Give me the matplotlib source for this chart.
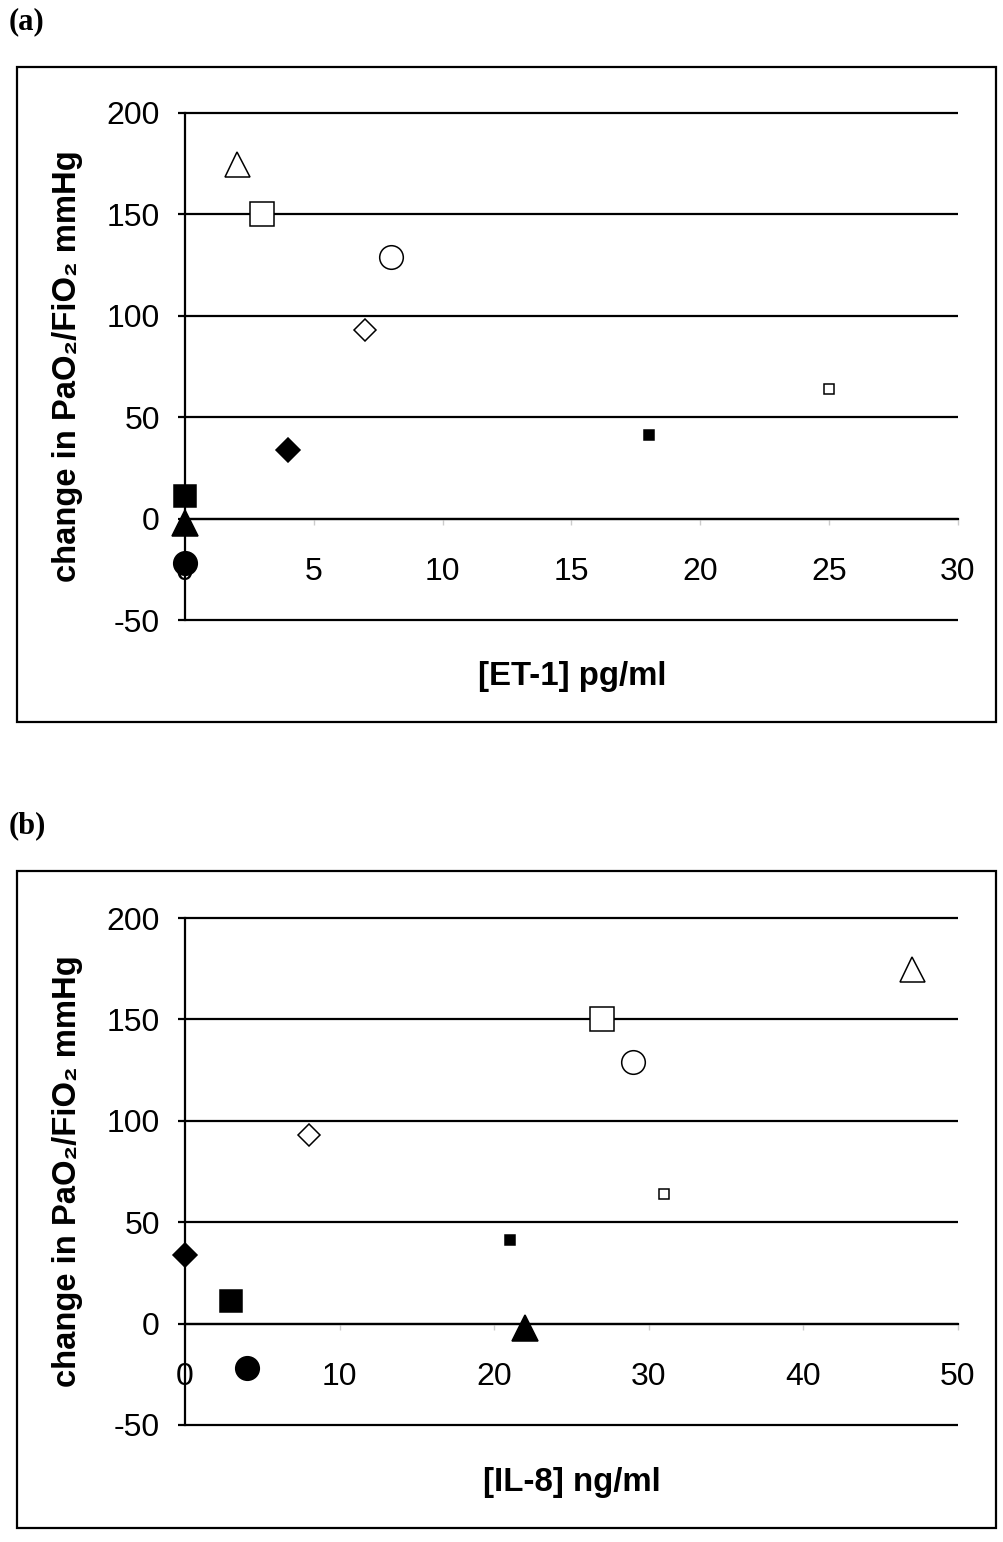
import matplotlib
matplotlib.use("Agg")
import matplotlib.pyplot as plt
from matplotlib.patches import Rectangle

plt.rcParams['font.family'] = ['Liberation Sans', 'DejaVu Sans']
plt.rcParams['axes.unicode_minus'] = False

# change in PaO2/FiO2 (mmHg), one value per patient
dpf_change = [175, 150, 129, 93, 34, 11, -2, -22, 41, 64]
# plasma concentrations for the same patients
et1_pgml = [2, 3, 8, 7, 4, 0, 0, 0, 18, 25]
il8_ngml = [47, 27, 29, 8, 0, 3, 22, 4, 21, 31]

# marker style per patient: (marker, size, facecolor)
styles = [
    ('^', 18, 'white'),
    ('s', 17, 'white'),
    ('o', 17, 'white'),
    ('D', 11.5, 'white'),
    ('D', 12.5, 'black'),
    ('s', 16.5, 'black'),
    ('^', 18.5, 'black'),
    ('o', 17, 'black'),
    ('s', 7.5, 'black'),
    ('s', 7, 'white'),
]

y_ticks = [-50, 0, 50, 100, 150, 200]

fig = plt.figure(figsize=(10.04, 15.42), dpi=100)


def px_x(v):
    return v / 1004.0


def px_y(v):
    return 1 - v / 1542.0


def draw_panel(top_px, xvals, xmax, xstep, xlabel, tag, box):
    bottom_px = top_px + 507
    ax = fig.add_axes([px_x(185), px_y(bottom_px), px_x(958 - 185),
                       (bottom_px - top_px) / 1542.0])
    ax.set_xlim(0, xmax)
    ax.set_ylim(-50, 200)

    ax.hlines(y_ticks, 0, xmax, colors='black', lw=1.6, clip_on=False, zorder=1)

    for x, y, (m, s, fc) in zip(xvals, dpf_change, styles):
        ax.plot(x, y, marker=m, ms=s, mfc=fc, mec='black', mew=1.1,
                ls='none', clip_on=False, zorder=3)

    for side in ['top', 'right']:
        ax.spines[side].set_visible(False)
    ax.spines['bottom'].set_position(('data', 0))
    ax.spines['bottom'].set_linewidth(1.6)
    ax.spines['left'].set_linewidth(1.6)

    ax.set_yticks(y_ticks)
    ax.set_xticks(list(range(0, xmax + 1, xstep)))
    ax.tick_params(axis='y', direction='out', length=5, width=1.6,
                   pad=13, labelsize=23)
    ax.tick_params(axis='x', direction='out', length=4, width=1,
                   color='#cccccc', pad=24, labelsize=23)

    fig.text(px_x(572), px_y(bottom_px + 57), xlabel, ha='center', va='center',
             fontsize=23.8, fontweight='bold')
    fig.text(px_x(68), px_y(top_px + 253), 'change in PaO\u2082/FiO\u2082 mmHg',
             ha='center', va='center', rotation=90, fontsize=23.6,
             fontweight='bold')

    fig.text(px_x(9), px_y(box[1] - 45), tag, ha='left', va='center',
             fontsize=22, fontweight='bold', family='Liberation Serif')

    x0, y0, x1, y1 = box
    fig.patches.append(Rectangle((px_x(x0), px_y(y1)), px_x(x1 - x0),
                                 (y1 - y0) / 1542.0, transform=fig.transFigure,
                                 fill=False, lw=1.6, ec='black'))
    return ax


draw_panel(113, et1_pgml, 30, 5, '[ET-1] pg/ml', '(a)', (17, 67, 996, 722))
draw_panel(918, il8_ngml, 50, 10, '[IL-8] ng/ml', '(b)', (17, 871, 996, 1528))

fig.savefig('out.png', dpi=100)
